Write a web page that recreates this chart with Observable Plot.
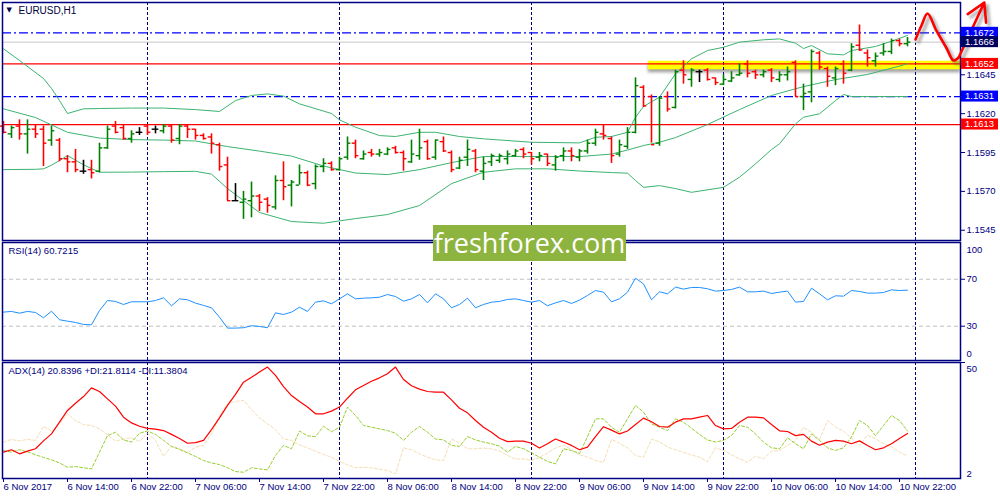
<!DOCTYPE html>
<html><head><meta charset="utf-8">
<script src="https://cdn.jsdelivr.net/npm/d3@7"></script>
<script src="https://cdn.jsdelivr.net/npm/@observablehq/plot@0.6"></script>
<style>
html,body{margin:0;padding:0;background:#fff;}
#wrap{position:relative;width:1000px;height:500px;overflow:hidden;background:#fff;}
#wm{position:absolute;left:433px;top:225px;width:193px;height:36px;background:#8db43e;color:#fff;font-family:"Open Sans",sans-serif;font-size:27px;line-height:35px;text-align:center;z-index:5;}
</style></head><body><div id="wrap"><div id="wm">freshforex.com</div></div>
<script>
// ---------- data ----------
const timeTicks = [0,8,16,24,32,40,48,56,64,72,80,88,96,104,112];
const timeLabels = ["6 Nov 2017","6 Nov 14:00","6 Nov 22:00","7 Nov 06:00","7 Nov 14:00","7 Nov 22:00","8 Nov 06:00","8 Nov 14:00","8 Nov 22:00","9 Nov 06:00","9 Nov 14:00","9 Nov 22:00","10 Nov 06:00","10 Nov 14:00","10 Nov 22:00"];
const daySeparators = [18,42,66,90,114];
const priceTicks = [1.1545,1.1570,1.1595,1.1620,1.1645];

const open = [1.1612,1.1607,1.1612,1.1607,1.1610,1.1610,1.1603,1.1603,1.1591,1.1589,1.1583,1.1584,1.1583,1.1598,1.1612,1.1611,1.1604,1.1608,1.1612,1.1610,1.1609,1.1612,1.1604,1.1612,1.1610,1.1606,1.1605,1.1600,1.1587,1.1564,1.1563,1.1564,1.1567,1.1565,1.1560,1.1577,1.1574,1.1574,1.1582,1.1575,1.1586,1.1588,1.1584,1.1592,1.1601,1.1591,1.1595,1.1594,1.1594,1.1598,1.1595,1.1589,1.1593,1.1602,1.1592,1.1602,1.1595,1.1585,1.1592,1.1596,1.1583,1.1589,1.1590,1.1591,1.1593,1.1597,1.1595,1.1592,1.1594,1.1587,1.1593,1.1596,1.1592,1.1596,1.1601,1.1607,1.1604,1.1594,1.1599,1.1608,1.1637,1.1631,1.1601,1.1631,1.1624,1.1648,1.1642,1.1647,1.1648,1.1643,1.1639,1.1641,1.1645,1.1652,1.1647,1.1645,1.1648,1.1642,1.1645,1.1653,1.1631,1.1634,1.1659,1.1649,1.1643,1.1652,1.1648,1.1664,1.1659,1.1654,1.1659,1.1660,1.1667,1.1665];
const high = [1.1615,1.1612,1.1616,1.1616,1.1613,1.1612,1.1612,1.1604,1.1593,1.1597,1.1590,1.1590,1.1601,1.1612,1.1615,1.1613,1.1609,1.1611,1.1613,1.1612,1.1613,1.1613,1.1613,1.1613,1.1610,1.1607,1.1607,1.1601,1.1592,1.1575,1.1570,1.1576,1.1568,1.1566,1.1580,1.1589,1.1577,1.1587,1.1583,1.1587,1.1591,1.1589,1.1592,1.1605,1.1603,1.1596,1.1597,1.1597,1.1598,1.1599,1.1596,1.1603,1.1610,1.1603,1.1603,1.1605,1.1596,1.1592,1.1603,1.1597,1.1592,1.1594,1.1594,1.1596,1.1597,1.1598,1.1595,1.1595,1.1594,1.1593,1.1598,1.1598,1.1597,1.1603,1.1610,1.1613,1.1605,1.1603,1.1611,1.1643,1.1638,1.1632,1.1631,1.1634,1.1648,1.1654,1.1649,1.1648,1.1649,1.1643,1.1645,1.1647,1.1652,1.1654,1.1648,1.1648,1.1649,1.1647,1.1650,1.1654,1.1639,1.1661,1.1660,1.1650,1.1650,1.1654,1.1665,1.1677,1.1661,1.1659,1.1665,1.1668,1.1668,1.1669];
const low = [1.1607,1.1604,1.1603,1.1594,1.1604,1.1586,1.1599,1.1589,1.1582,1.1582,1.1581,1.1578,1.1582,1.1597,1.1607,1.1603,1.1601,1.1606,1.1606,1.1607,1.1607,1.1601,1.1600,1.1604,1.1603,1.1603,1.1594,1.1583,1.1564,1.1564,1.1552,1.1553,1.1557,1.1556,1.1558,1.1564,1.1560,1.1574,1.1573,1.1571,1.1582,1.1583,1.1583,1.1590,1.1591,1.1590,1.1592,1.1592,1.1593,1.1594,1.1583,1.1588,1.1590,1.1590,1.1590,1.1595,1.1582,1.1584,1.1586,1.1582,1.1577,1.1586,1.1588,1.1587,1.1592,1.1591,1.1587,1.1589,1.1586,1.1583,1.1589,1.1589,1.1589,1.1594,1.1599,1.1603,1.1588,1.1592,1.1597,1.1607,1.1624,1.1601,1.1599,1.1621,1.1623,1.1639,1.1637,1.1640,1.1641,1.1638,1.1638,1.1640,1.1644,1.1643,1.1642,1.1643,1.1640,1.1640,1.1641,1.1631,1.1622,1.1627,1.1648,1.1637,1.1638,1.1639,1.1647,1.1660,1.1650,1.1650,1.1657,1.1658,1.1663,1.1663];
const close = [1.1608,1.1611,1.1607,1.1610,1.1607,1.1601,1.1609,1.1591,1.1589,1.1584,1.1583,1.1582,1.1598,1.1610,1.1608,1.1604,1.1607,1.1608,1.1608,1.1610,1.1612,1.1603,1.1612,1.1610,1.1606,1.1604,1.1601,1.1586,1.1564,1.1564,1.1565,1.1567,1.1563,1.1561,1.1577,1.1573,1.1576,1.1582,1.1574,1.1586,1.1588,1.1584,1.1591,1.1601,1.1593,1.1594,1.1594,1.1595,1.1597,1.1595,1.1591,1.1594,1.1598,1.1591,1.1603,1.1596,1.1584,1.1590,1.1597,1.1584,1.1588,1.1593,1.1593,1.1594,1.1596,1.1594,1.1591,1.1593,1.1588,1.1592,1.1596,1.1593,1.1596,1.1601,1.1608,1.1606,1.1593,1.1600,1.1608,1.1638,1.1625,1.1600,1.1630,1.1623,1.1647,1.1645,1.1648,1.1647,1.1642,1.1640,1.1642,1.1643,1.1646,1.1646,1.1645,1.1647,1.1643,1.1645,1.1647,1.1631,1.1633,1.1660,1.1650,1.1644,1.1649,1.1646,1.1663,1.1661,1.1656,1.1657,1.1660,1.1667,1.1665,1.1666];

const bbUpperIdx = [0,2,5,6,7,8,10,12,16,20,24,27,29,31,33,35,37,41,42,44,47,49,52,54,57,60,66,72,74,76,78,79,80,82,84,86,88,90,92,95,97,99,100,101,103,105,106,109,111,113];
const bbUpper = [1.16617,1.16542,1.16426,1.16362,1.16284,1.16201,1.16231,1.16233,1.16236,1.16236,1.16226,1.16214,1.16284,1.16317,1.16327,1.16313,1.16263,1.16201,1.16160,1.16113,1.16059,1.16053,1.16080,1.16080,1.16053,1.16038,1.16016,1.16012,1.16048,1.16053,1.16080,1.16177,1.16246,1.16306,1.16456,1.16553,1.16606,1.16627,1.16660,1.16675,1.16681,1.16653,1.16619,1.16638,1.16585,1.16578,1.16606,1.16632,1.16666,1.16703];
const bbMiddleIdx = [0,4,8,12,16,20,24,28,32,36,40,44,48,52,56,60,64,68,72,76,78,80,82,84,88,92,96,100,104,108,112,113];
const bbMiddle = [1.16231,1.16175,1.16080,1.16043,1.16033,1.16030,1.16024,1.15988,1.15959,1.15927,1.15863,1.15818,1.15808,1.15840,1.15885,1.15924,1.15924,1.15924,1.15924,1.15940,1.15966,1.15995,1.16016,1.16046,1.16130,1.16226,1.16317,1.16374,1.16419,1.16452,1.16506,1.16521];
const bbLowerIdx = [0,4,5,6,8,10,12,16,20,24,26,28,32,36,40,44,48,52,56,60,64,68,72,76,78,79,80,82,84,86,90,92,94,96,97,99,100,102,104,105,106,113];
const bbLower = [1.15840,1.15842,1.15845,1.15868,1.15930,1.15871,1.15823,1.15824,1.15827,1.15829,1.15811,1.15718,1.15564,1.15506,1.15495,1.15525,1.15551,1.15609,1.15750,1.15823,1.15845,1.15845,1.15831,1.15821,1.15817,1.15770,1.15726,1.15737,1.15718,1.15694,1.15726,1.15791,1.15877,1.15969,1.16006,1.16134,1.16177,1.16199,1.16284,1.16323,1.16310,1.16310];

const blueLevels = [1.1672, 1.1631];
const redLevels = [1.1652, 1.1613];
const bidLevel = [1.1666];
const zoneLow = 1.16482, zoneHigh = 1.16537, zoneStartBar = 80.6;
const arrowPathBar = [114, 114.75, 115.5, 116.6, 117.9, 118.75, 119.4];
const arrowPathPrice = [1.16677, 1.16767, 1.16844, 1.16735, 1.16619, 1.16542, 1.16561];
const arrowHeadBar = [119.4, 122.6];
const arrowHeadPrice = [1.16561, 1.16915];

const rsi = [42.0,42.6,41.1,42.6,41.7,37.2,42.8,35.5,34.3,33.2,31.5,31.2,43.4,51.9,51.1,48.5,50.8,50.8,50.8,51.9,54.2,47.4,53.3,52.5,49.7,47.7,45.7,37.7,28.4,28.4,28.7,30.4,29.8,28.7,41.4,40.0,42.0,46.2,42.6,50.5,51.6,49.1,53.3,57.6,53.3,53.9,54.2,54.7,57.0,55.3,51.3,53.3,57.0,49.9,57.6,53.3,45.7,48.5,53.9,45.7,48.5,50.5,51.1,
 52.8,53.3,51.9,50.5,51.9,47.4,49.9,51.9,49.4,52.2,56.2,60.4,59.0,50.8,53.3,59.0,70.9,66.1,52.5,59.3,57.6,63.3,61.6,63.0,63.0,61.9,59.9,60.4,61.3,63.3,59.3,59.3,59.9,57.9,59.0,59.9,50.5,51.1,62.4,57.6,52.5,55.9,55.6,60.4,59.6,58.2,58.2,58.7,61.0,60.4,60.7];
const adx = [13.0,14.0,12.3,13.4,14.4,17.7,20.6,25.5,30.4,33.4,36.2,39.8,38.3,35.2,32.2,27.6,25.2,23.8,22.9,22.6,22.0,20.4,18.7,16.7,17.0,17.9,22.4,27.3,32.5,37.1,42.2,44.2,46.4,48.5,45.0,40.3,36.6,34.1,31.8,29.0,29.0,30.1,31.8,35.5,39.0,40.8,42.6,44.0,45.7,48.5,43.3,40.7,39.3,38.3,38.0,38.0,34.8,31.3,29.4,26.2,23.4,21.3,18.8,
 17.4,17.6,17.6,16.7,14.7,16.5,18.5,17.2,15.8,14.0,15.1,19.5,23.6,22.2,20.6,21.8,24.5,27.2,25.7,23.7,23.4,25.5,26.9,26.9,27.6,28.3,24.1,22.7,22.9,25.5,27.6,27.6,27.3,24.5,21.9,21.6,19.9,20.4,17.6,15.9,17.2,17.9,17.6,16.5,17.7,15.8,14.0,14.8,16.5,18.7,20.8];
const plusDI = [13.7,13.0,14.0,13.1,11.9,10.8,9.8,8.5,6.7,7.0,6.5,6.0,13.0,19.9,21.3,18.1,17.2,20.9,21.8,20.4,17.9,15.4,14.1,12.7,11.2,9.5,8.5,7.8,6.5,4.9,4.6,6.5,6.0,5.6,11.6,15.8,14.4,21.8,19.8,19.5,23.8,21.5,23.4,31.8,28.3,24.1,23.4,22.7,22.0,20.9,17.9,21.3,23.7,21.3,18.5,18.1,15.8,15.4,19.5,18.1,17.2,16.5,15.5,
 13.0,15.4,14.4,12.7,10.9,9.1,8.1,14.4,13.7,12.4,19.5,26.9,26.9,23.4,21.3,26.9,32.5,29.7,24.8,23.4,22.0,26.9,25.5,23.0,20.4,18.1,17.2,17.9,19.9,24.1,23.4,20.6,17.2,14.8,14.4,19.0,16.5,14.4,20.6,17.9,14.8,13.7,14.8,19.3,26.2,24.1,19.9,24.1,28.3,26.2,21.8];
const minusDI = [17.2,18.3,17.7,18.3,17.9,23.8,21.8,24.8,29.0,26.1,24.5,24.1,22.7,20.2,17.6,18.4,19.0,17.4,20.9,17.9,11.2,15.6,14.5,12.7,15.1,15.8,20.4,28.3,33.2,34.1,34.6,30.7,27.3,24.8,22.4,18.5,17.9,16.0,14.8,13.4,12.0,10.9,9.1,7.7,6.5,6.7,6.5,5.9,5.3,3.9,14.8,14.0,12.3,10.9,9.8,9.5,18.5,16.7,14.4,14.4,14.7,14.4,13.5,
 11.6,10.1,10.2,9.5,10.8,12.7,14.7,15.9,14.0,11.9,10.9,9.5,8.8,18.3,16.7,14.8,11.6,10.9,18.4,17.3,15.1,14.0,12.9,11.8,10.9,9.0,14.8,13.7,11.9,10.2,8.8,11.3,10.2,13.4,13.7,15.8,17.9,23.3,21.3,18.1,26.2,23.4,21.8,18.8,15.8,20.1,18.6,16.5,15.1,13.0,11.4];

// ---------- layout ----------
const NAVY = "#000080";
const FONT = "'Liberation Sans', Arial, sans-serif";
const style = {background:"transparent", fontFamily: FONT, fontSize:"9.5px", color: NAVY, overflow:"visible"};
const xs = {type:"linear", domain:[-0.125, 119.625], axis:null};
const wrap = document.getElementById("wrap");
function place(svg, top){ svg.style.position="absolute"; svg.style.left="0px"; svg.style.top=top+"px"; wrap.insertBefore(svg, document.getElementById("wm")); }

const bars = open.map((o,i)=>({i, o, h:high[i], l:low[i], c:close[i],
  col: close[i] > o ? "#008000" : close[i] < o ? "#ff0000" : "#000000"}));
const band = (idx, vals) => idx.map((x,k)=>({x, y: vals[k]}));
const arrowPath = arrowPathBar.map((x,k)=>({x, y: arrowPathPrice[k]}));
const arrowHead = [{x1: arrowHeadBar[0], y1: arrowHeadPrice[0], x2: arrowHeadBar[1], y2: arrowHeadPrice[1]}];
const sepRule = Plot.ruleX(daySeparators, {stroke: NAVY, strokeDasharray:"3,2", strokeWidth:1});

// main price panel
const main = Plot.plot({
  width:1000, height:242, marginLeft:2, marginRight:40, marginTop:2, marginBottom:2,
  x: xs, y: {domain:[1.15384, 1.16915], axis:null}, style,
  marks: [
    Plot.rect([0], {x1: zoneStartBar, x2: 119.625, y1: zoneLow, y2: zoneHigh, fill:"#5a5a5a", fillOpacity:0.55, dy:3}),
    Plot.rect([0], {x1: zoneStartBar, x2: 119.625, y1: zoneLow, y2: zoneHigh, fill:"#ffff00"}),
    sepRule,
    Plot.ruleY(bidLevel, {stroke:"#c8c8c8"}),
    Plot.ruleY(blueLevels, {stroke:"#0000ff", strokeDasharray:"9,3,2,3", strokeWidth:1.2}),
    Plot.ruleY(redLevels, {stroke:"#ff0000", strokeWidth:1.2}),
    Plot.line(band(bbUpperIdx, bbUpper), {x:"x", y:"y", stroke:"#3cb371", strokeWidth:1}),
    Plot.line(band(bbMiddleIdx, bbMiddle), {x:"x", y:"y", stroke:"#3cb371", strokeWidth:1}),
    Plot.line(band(bbLowerIdx, bbLower), {x:"x", y:"y", stroke:"#3cb371", strokeWidth:1}),
    Plot.ruleX(bars, {x:"i", y1:"l", y2:"h", stroke:"col", strokeWidth:1.6}),
    Plot.ruleY(bars, {y:"o", x1: d=>d.i-0.42, x2:"i", stroke:"col", strokeWidth:1.4}),
    Plot.ruleY(bars, {y:"c", x1:"i", x2: d=>d.i+0.42, stroke:"col", strokeWidth:1.4}),
    Plot.frame({stroke: NAVY, strokeWidth:1.5}),
    Plot.axisY(priceTicks, {anchor:"right", tickSize:4, tickPadding:2, tickFormat: d3.format(".4f")}),
    Plot.text(["▼"], {frameAnchor:"top-left", dx:4, dy:5, fontSize:7, fill:"#000040", fontFamily:"DejaVu Sans"}),
    Plot.text(["EURUSD,H1"], {frameAnchor:"top-left", dx:16, dy:4, fill:"#000040", fontSize:10}),
    Plot.line(arrowPath, {x:"x", y:"y", stroke:"#555556", strokeOpacity:0.5, strokeWidth:3, dx:3, dy:3, curve:"catmull-rom"}),
    Plot.arrow(arrowHead, {x1:"x1", y1:"y1", x2:"x2", y2:"y2", stroke:"#555556", strokeOpacity:0.5, strokeWidth:3, headLength:14, dx:3, dy:3}),
    Plot.line(arrowPath, {x:"x", y:"y", stroke:"#ff0000", strokeWidth:2.6, curve:"catmull-rom"}),
    Plot.arrow(arrowHead, {x1:"x1", y1:"y1", x2:"x2", y2:"y2", stroke:"#ff0000", strokeWidth:2.6, headLength:14})
  ]
});
place(main, 0);
d3.select(main).selectAll('[fill="#5a5a5a"], [stroke="#555556"]').style("filter","blur(1.6px)");
// price tags on the right axis, positioned by the plot's own y scale
const ys = main.scale("y");
const tagG = d3.select(main).append("g").attr("font-family", FONT).attr("font-size", "9.5px").attr("text-anchor", "start");
const tagFill = p => bidLevel.includes(p) ? "#000060" : blueLevels.includes(p) ? "#0000ff" : "#ff0000";
[...blueLevels.slice(0,1), ...bidLevel, ...redLevels.slice(0,1), ...blueLevels.slice(1), ...redLevels.slice(1)].forEach(p => {
  const y = ys.apply(p);
  tagG.append("rect").attr("x", 961).attr("y", y - 5.5).attr("width", 37).attr("height", 11).attr("fill", tagFill(p));
  tagG.append("text").attr("x", 965).attr("y", y).attr("dy", "0.35em").attr("text-anchor", "start").attr("fill", "#fff").text(p.toFixed(4));
});

// RSI panel
const rsiPlot = Plot.plot({
  width:1000, height:120, marginLeft:2, marginRight:40, marginTop:2, marginBottom:0,
  x: xs, y: {domain:[0.8, 101.3], axis:null}, style,
  marks: [
    Plot.ruleY([70,30], {stroke:"#c0c0c0", strokeDasharray:"4,3"}),
    sepRule,
    Plot.lineY(rsi, {stroke:"#1e90ff", strokeWidth:1}),
    Plot.frame({stroke: NAVY, strokeWidth:1.5}),
    Plot.axisY([70,30], {anchor:"right", tickSize:4, tickPadding:2}),
    Plot.axisY([100], {anchor:"right", tickSize:0, tickPadding:6, dy:6}),
    Plot.axisY([0.8], {anchor:"right", tickSize:0, tickPadding:6, dy:-7, tickFormat: () => "0"}),
    Plot.text(["RSI(14) 60.7215"], {frameAnchor:"top-left", dx:6, dy:5})
  ]
});
place(rsiPlot, 240);

// ADX panel
const adxPlot = Plot.plot({
  width:1000, height:140, marginLeft:2, marginRight:40, marginTop:2, marginBottom:22,
  x: xs, y: {domain:[2, 50.4], axis:null}, style,
  marks: [
    sepRule,
    Plot.lineY(minusDI, {stroke:"#f5deb3", strokeDasharray:"3,2", strokeWidth:1}),
    Plot.lineY(plusDI, {stroke:"#9acd32", strokeDasharray:"3,2", strokeWidth:1}),
    Plot.lineY(adx, {stroke:"#ff0000", strokeWidth:1.2}),
    Plot.frame({stroke: NAVY, strokeWidth:1.5}),
    Plot.axisY([50.4], {anchor:"right", tickSize:4, tickPadding:2, dy:0, tickFormat: () => ""}),
    Plot.axisY([50.4], {anchor:"right", tickSize:0, tickPadding:6, dy:6, tickFormat: () => "50"}),
    Plot.axisY([2], {anchor:"right", tickSize:0, tickPadding:6, dy:-5, tickFormat: () => "2"}),
    Plot.axisX(timeTicks, {anchor:"bottom", tickSize:4, tickPadding:1, textAnchor:"start", tickFormat: d => timeLabels[timeTicks.indexOf(d)]}),
    Plot.text(["ADX(14) 20.8396 +DI:21.8114 -DI:11.3804"], {frameAnchor:"top-left", dx:6, dy:5})
  ]
});
place(adxPlot, 360);
</script>
</body></html>
